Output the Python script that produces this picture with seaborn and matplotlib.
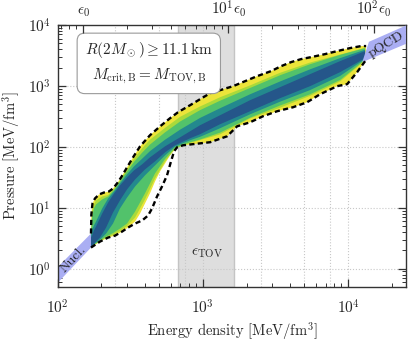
import matplotlib
matplotlib.use('Agg')
import matplotlib.pyplot as plt
from matplotlib.ticker import FixedLocator, FixedFormatter, NullFormatter
import seaborn as sns

sns.set_theme(style='ticks')
plt.rcParams['font.family'] = ['cmr10', 'DejaVu Serif']
plt.rcParams['mathtext.fontset'] = 'cm'
plt.rcParams['axes.formatter.use_mathtext'] = True
plt.rcParams['axes.unicode_minus'] = False

# energy density nodes [MeV/fm^3] for the upper / lower edges of the credible bands
e_up = [170, 173, 178, 184, 203, 223, 245, 269, 301, 336, 382, 433, 550, 697,
        957, 1315, 2115, 3403, 5475, 8810, 13090]
e_lo = [170, 181, 196, 216, 241, 269, 301, 342, 400, 469, 550, 644, 817, 957,
        1315, 2115, 3403, 5475, 8810, 13090]

# pressure [MeV/fm^3] of the band edges (inner -> outer)
blue_up = [3.24, 3.49, 4.22, 4.91, 8.04, 12.2, 17.2, 23.2, 31.5, 41.0, 51.5, 67.2,
           102, 143, 226, 330, 583, 954, 1561, 2555, 3733]
teal_up = [3.43, 4.39, 5.10, 5.94, 9.72, 14.2, 18.5, 25.1, 35.3, 47.8, 63.7, 85.0,
           131, 191, 298, 430, 729, 1184, 1873, 2862, 3937]
green_up = [3.56, 6.91, 9.72, 11.3, 13.7, 15.3, 19.6, 27.0, 39.5, 56.4, 80.0, 109,
            173, 260, 400, 572, 925, 1497, 2272, 3232, 4167]
lgreen_up = [3.66, 8.68, 11.3, 13.2, 15.3, 16.2, 20.7, 28.4, 42.6, 63.7, 94.5, 131,
             205, 310, 460, 652, 1020, 1644, 2421, 3278, 4250]

blue_lo = [2.30, 2.68, 3.24, 4.73, 8.35, 13.2, 20.0, 29.2, 42.6, 57.7, 81.2, 106,
           138, 161, 235, 384, 629, 991, 1684, 2862]
teal_lo = [2.27, 2.58, 3.00, 3.77, 5.51, 9.72, 14.7, 22.4, 34.0, 49.6, 72.4, 101,
           128, 146, 202, 342, 551, 855, 1458, 2777]
green_lo = [2.25, 2.53, 2.89, 3.36, 3.84, 4.55, 5.51, 8.68, 17.2, 36.6, 63.4, 96.3,
            119, 132, 171, 301, 477, 729, 1253, 2684]
lgreen_lo = [2.23, 2.50, 2.82, 3.21, 3.59, 4.14, 5.01, 6.91, 13.7, 30.3, 57.7, 93.4,
             115, 129, 160, 292, 439, 687, 1185, 2615]

# outer envelope (dashed)
env_up_e = [170, 171, 174, 181, 193, 209, 226, 241, 257, 274, 301, 331, 370, 433,
            508, 595, 675, 817, 957, 1122, 1315, 1616, 1954, 2363, 2951, 3457, 4052,
            4747, 5564, 6946, 8402, 10320, 12290, 13300]
env_up_p = [3.77, 7.74, 11.7, 14.2, 16.5, 17.8, 18.5, 20.7, 25.1, 31.5, 46.0, 67.2,
            102, 155, 217, 295, 370, 482, 605, 760, 851, 991, 1197, 1446, 1750, 2110,
            2460, 2755, 2970, 3330, 3730, 4180, 4510, 4510]
env_lo_e = [170, 196, 223, 249, 278, 306, 342, 382, 420, 447, 484, 524, 567, 604,
            634, 665, 731, 1122, 1469, 1721, 2115, 2598, 3245, 4181, 5220, 6415,
            8402, 9843, 11530, 13090]
env_lo_p = [2.22, 2.78, 3.24, 3.49, 4.06, 4.73, 5.51, 6.17, 7.45, 9.72, 15.3, 22.4,
            34.0, 57.7, 84.3, 98.2, 106, 119, 149, 217, 253, 318, 384, 447, 540, 731,
            991, 1069, 1684, 2550]

# lower edge of the coloured (yellow) region where it departs from the envelope
yel_lo_e = [170, 196, 223, 249, 278, 306, 342, 370, 400, 433, 469, 508, 550, 595,
            644, 665]
yel_lo_p = [2.22, 2.78, 3.24, 3.49, 4.06, 4.73, 5.94, 8.04, 11.75, 17.2, 27.0, 39.5,
            53.5, 72.4, 90.9, 98.2]

# nuclear and pQCD constraint bands
nucl_e = [100, 170, 170, 100]
nucl_p = [0.58, 2.22, 3.77, 1.05]
pqcd_e = [12500, 13900, 25000, 25000]
pqcd_p = [2450, 5300, 9800, 4900]

eps_tov = (673, 1630)
eps0 = 150

colors = ['#ece43a', '#a9da3a', '#52c26b', '#23898e', '#25568a']

fig = plt.figure(figsize=(4.09, 3.43), dpi=100)
ax = fig.add_axes([0.1406, 0.1633, 0.852, 0.7638])
ax.set_xscale('log')
ax.set_yscale('log')

ax.axvspan(*eps_tov, facecolor='#dedede', edgecolor='#c4c4c4', lw=1.0, zorder=0.2)

for yv in [1, 10, 100, 1000]:
    ax.axhline(yv, color='#c8c8c8', ls=':', lw=0.8, zorder=0.5)
for xv in [250, 500, 750, 1000, 2500, 5000, 7500, 10000]:
    ax.axvline(xv, color='#c8c8c8', ls=':', lw=0.8, zorder=0.5)

ax.fill(nucl_e, nucl_p, color='#aaaef3', lw=0, zorder=1)


def band(eu, pu, el, pl):
    return list(eu) + list(el)[::-1], list(pu) + list(pl)[::-1]


yel_e = yel_lo_e + env_lo_e[16:]
yel_p = yel_lo_p + env_lo_p[16:]
shapes = [
    band(env_up_e, env_up_p, yel_e, yel_p),
    band(e_up, lgreen_up, e_lo, lgreen_lo),
    band(e_up, green_up, e_lo, green_lo),
    band(e_up, teal_up, e_lo, teal_lo),
    band(e_up, blue_up, e_lo, blue_lo),
]
for (ex, py), c in zip(shapes, colors):
    ax.fill(ex, py, color=c, lw=0, zorder=2)

ax.fill(pqcd_e, pqcd_p, color='#aaaef3', lw=0, zorder=3)

sns.lineplot(x=env_up_e, y=env_up_p, sort=False, estimator=None, ax=ax,
             color='black', lw=1.7, linestyle=(0, (2.2, 1.4)), zorder=4)
sns.lineplot(x=env_lo_e, y=env_lo_p, sort=False, estimator=None, ax=ax,
             color='black', lw=1.7, linestyle=(0, (2.2, 1.4)), zorder=4)

ax.set_xlim(100, 25000)
ax.set_ylim(0.5, 1e4)

ax.text(129, 1.45, 'Nucl.', rotation=47, ha='center', va='center', fontsize=10, zorder=5)
ax.text(18300, 4700, 'pQCD', rotation=31, ha='center', va='center', fontsize=10, zorder=5)
ax.text(1069, 1.83, r'$\epsilon_{\mathrm{TOV}}$', ha='center', va='center', fontsize=11)
ax.text(0.262, 0.855, '$R(2M_\\odot) \\geq 11.1\\,\\mathrm{km}$\n'
        '$M_{\\mathrm{crit,B}} = M_{\\mathrm{TOV,B}}$',
        transform=ax.transAxes, ha='center', va='center', fontsize=11, linespacing=1.55,
        bbox=dict(boxstyle='round,pad=0.5', fc='white', ec='#9a9a9a', lw=0.8), zorder=6)

ax.set_xlabel(r'Energy density [MeV/fm$^3$]', fontsize=10.5, labelpad=3)
ax.set_ylabel(r'Pressure [MeV/fm$^3$]', fontsize=10.5, labelpad=4)
ax.tick_params(which='both', direction='in', top=False, right=True, labelsize=11,
               color='#333333')
ax.tick_params(axis='x', which='both', pad=8)
ax.tick_params(axis='y', which='both', pad=5)
ax.tick_params(which='major', length=6, width=0.9)
ax.tick_params(which='minor', length=3, width=0.7)
for s in ax.spines.values():
    s.set_color('#333333')
    s.set_linewidth(1.0)

ax2 = ax.twiny()
ax2.set_xscale('log')
ax2.set_xlim(ax.get_xlim())
top_ticks = [eps0, 10 * eps0, 100 * eps0]
top_labels = [r'$\epsilon_0$', r'$10^1\epsilon_0$', r'$10^2\epsilon_0$']
minor = [eps0 * k * d for d in [0.1, 1, 10] for k in range(2, 10)]
ax2.xaxis.set_major_locator(FixedLocator(top_ticks))
ax2.xaxis.set_major_formatter(FixedFormatter(top_labels))
ax2.xaxis.set_minor_locator(FixedLocator([m for m in minor if 100 < m < 25000]))
ax2.xaxis.set_minor_formatter(NullFormatter())
ax2.tick_params(which='both', direction='in', labelsize=11, color='#333333', pad=4)
ax2.tick_params(which='major', length=6, width=0.9)
ax2.tick_params(which='minor', length=3, width=0.7)
for s in ax2.spines.values():
    s.set_visible(False)

fig.savefig('out.png', dpi=100)
